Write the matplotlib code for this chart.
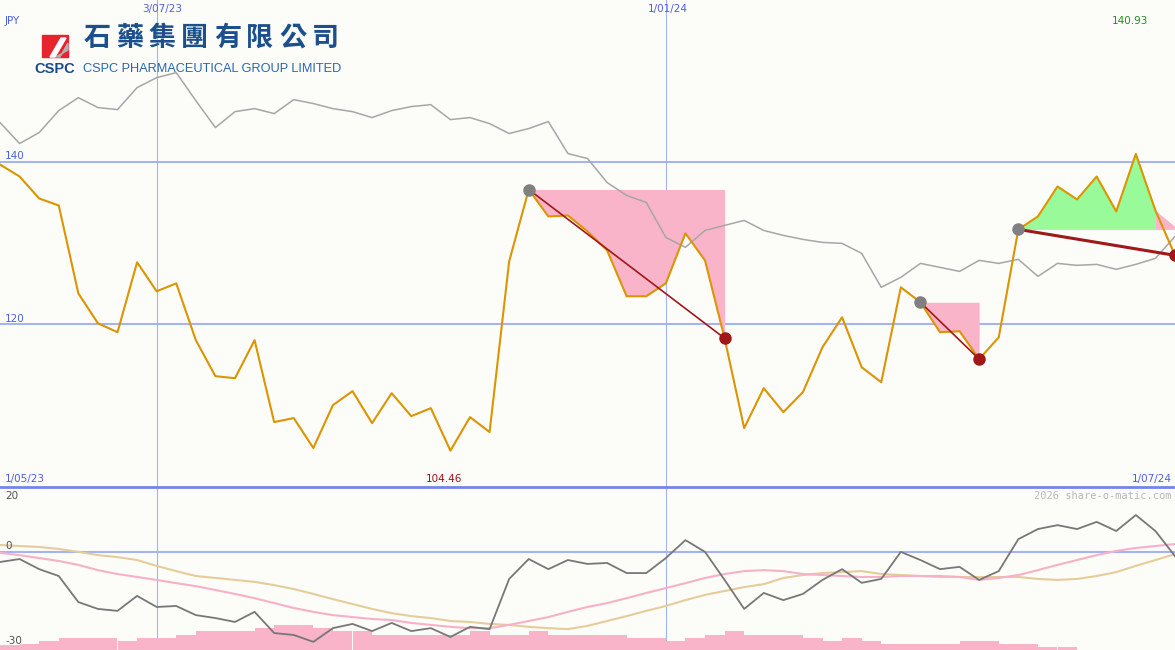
import numpy as np
import matplotlib
matplotlib.use("Agg")
import matplotlib.pyplot as plt
from matplotlib.patches import Rectangle, Polygon

# weekly closes (JPY) 1/05/23 .. 1/07/24
price = [139.63, 138.16, 135.46, 134.60, 123.80, 120.12, 119.02, 127.61, 124.05, 125.03,
         118.04, 113.62, 113.37, 118.04, 107.98, 108.47, 104.79, 110.06, 111.78, 107.85,
         111.53, 108.71, 109.69, 104.46, 108.59, 106.75, 127.73, 136.56, 133.25, 133.37,
         131.41, 129.08, 123.44, 123.44, 125.03, 131.17, 127.85, 118.28, 107.24, 112.15,
         109.20, 111.66, 117.18, 120.86, 114.72, 112.88, 124.54, 122.70, 119.02, 119.14,
         115.71, 118.40, 131.66, 133.25, 136.93, 135.34, 138.16, 133.87, 140.93, 133.99,
         128.47]
# comparison index, rescaled to the price axis
index_line = [144.79, 142.21, 143.56, 146.26, 147.85, 146.63, 146.38, 149.08, 150.31, 150.92,
              147.48, 144.17, 146.13, 146.50, 145.89, 147.61, 147.12, 146.50, 146.13, 145.40,
              146.26, 146.75, 146.99, 145.15, 145.40, 144.66, 143.44, 144.05, 144.91, 140.98,
              140.37, 137.42, 135.83, 134.97, 130.67, 129.45, 131.53, 132.15, 132.76, 131.53,
              130.92, 130.43, 130.06, 129.94, 128.71, 124.54, 125.77, 127.48, 126.99, 126.50,
              127.85, 127.48, 127.98, 125.89, 127.48, 127.24, 127.36, 126.75, 127.36, 128.10,
              130.80]
# lower panel: momentum and its two averages
momentum = [-3.0, -2.1, -5.2, -7.3, -15.3, -17.4, -18.0, -13.4, -16.8, -16.5,
            -19.3, -20.2, -21.4, -18.3, -24.8, -25.4, -27.5, -23.3, -22.0, -24.2,
            -21.7, -24.2, -23.3, -26.0, -22.9, -23.6, -8.2, -2.1, -5.2, -2.4,
            -3.6, -3.3, -6.4, -6.4, -1.8, 3.7, 0.1, -8.5, -17.4, -12.5,
            -14.7, -12.8, -8.5, -5.2, -9.4, -8.2, 0.1, -2.4, -5.2, -4.5,
            -8.5, -5.8, 4.0, 7.1, 8.3, 7.1, 9.3, 6.5, 11.4, 6.5, -1.2]
avg_fast = [-0.2, -0.9, -1.8, -2.7, -3.9, -5.5, -6.7, -7.6, -8.5, -9.5,
            -10.4, -11.6, -12.8, -14.1, -15.6, -17.1, -18.3, -19.3, -19.9, -20.5,
            -20.8, -21.7, -22.3, -22.9, -23.3, -23.3, -22.3, -21.1, -19.9, -18.3,
            -16.8, -15.6, -14.1, -12.5, -11.0, -9.5, -7.9, -6.7, -5.8, -5.5,
            -5.8, -6.7, -7.0, -7.3, -7.6, -7.6, -7.3, -7.3, -7.3, -7.6,
            -8.5, -7.9, -7.0, -5.5, -3.9, -2.4, -0.9, 0.4, 1.3, 1.9, 2.5]
avg_slow = [2.2, 1.9, 1.6, 1.0, 0.1, -0.9, -1.5, -2.4, -4.2, -5.8,
            -7.3, -7.9, -8.5, -9.1, -10.1, -11.3, -12.8, -14.4, -15.9, -17.4,
            -18.7, -19.6, -20.2, -21.1, -21.4, -22.0, -22.3, -22.9, -23.3, -23.6,
            -22.6, -21.1, -19.6, -18.0, -16.5, -14.7, -13.1, -11.9, -10.7, -9.8,
            -7.9, -7.0, -6.4, -6.1, -5.8, -6.7, -7.0, -7.3, -7.6, -7.6,
            -7.6, -7.6, -7.6, -8.2, -8.5, -8.2, -7.3, -6.1, -4.2, -2.4, -0.6]
volume = [1.5, 1.8, 2.8, 3.7, 3.7, 3.7, 2.8, 3.7, 3.7, 4.6,
          5.8, 5.8, 5.8, 6.7, 7.7, 7.7, 6.7, 5.8, 5.8, 4.6,
          4.6, 4.6, 4.6, 4.6, 5.8, 4.6, 4.6, 5.8, 4.6, 4.6,
          4.6, 4.6, 3.7, 3.7, 2.8, 3.7, 4.6, 5.8, 4.6, 4.6,
          4.6, 3.7, 2.8, 3.7, 2.8, 1.8, 1.8, 1.8, 1.8, 2.8,
          2.8, 1.8, 1.8, 0.9, 0.9, 0, 0, 0, 0, 0]

date_labels = {0: "1/05/23", 8: "3/07/23", 34: "1/01/24", 60: "1/07/24"}
# drawdown / recovery periods: (start, end) week index
drawdowns = [(27, 37), (47, 50)]
recovery = (52, 60)

W, H = 1175, 650
BG = "#fcfdf9"
GRID = "#a4b4f2"
BLUE_TXT = "#4d5fe6"
ORANGE = "#dc9400"
PINK = "#f9b4c9"
DARKRED = "#a01818"

x = np.arange(len(price))
price = np.array(price)

fig = plt.figure(figsize=(W / 100, H / 100), dpi=100, facecolor=BG)
split = 487
ax = fig.add_axes([0, 1 - split / H, 1, split / H], facecolor=BG)
ax2 = fig.add_axes([0, 0, 1, 1 - split / H], facecolor=BG)
for a in (ax, ax2):
    a.set_xlim(0, 60)
    a.axis("off")
ax.set_ylim(100, 159.85)
ax2.set_ylim(-30, 20)

# grid
for lvl in (120, 140):
    ax.axhline(lvl, color=GRID, lw=1.5, zorder=1)
for a in (ax, ax2):
    for k in (8, 34):
        a.axvline(k, color=GRID, lw=0.8, zorder=1)
ax2.axhline(0, color=GRID, lw=1.5, zorder=1)
fig.add_artist(plt.Line2D([0, 1], [1 - split / H] * 2, color="#7484ea", lw=2))

# drawdown shading
for s, e in drawdowns:
    ax.fill_between(x[s:e + 1], price[s:e + 1], price[s], color=PINK, lw=0, zorder=2)
s, e = recovery
ax.fill_between(x[s:e], price[s:e], price[s], color="#98fa98", lw=0, zorder=2)
ax.fill_between([x[e - 1], x[e]], price[s], [price[e - 1], price[s] + 0.35],
                color=PINK, lw=0, zorder=2)

ax.plot(x, index_line, color="#a6a6a6", lw=1.1, zorder=3)
ax.plot(x, price, color=ORANGE, lw=1.5, zorder=4)

# trend lines peak -> trough
for (s, e), lw in zip(drawdowns + [recovery], (1.2, 1.2, 2.2)):
    ax.plot([s, e], [price[s], price[e]], color=DARKRED, lw=lw, zorder=5)
    ax.plot(s, price[s], "o", color="#808080", ms=8, zorder=6)
    ax.plot(e, price[e], "o", color=DARKRED, ms=8, zorder=6)

# lower panel
ax2.bar(x[:-1], volume, width=1, align="edge", bottom=-30, color=PINK, lw=0, zorder=1)
ax2.plot(x, avg_slow, color="#e6cc9a", lw=1.5, zorder=2)
ax2.plot(x, avg_fast, color="#f8b0c8", lw=1.5, zorder=2)
ax2.plot(x, momentum, color="#777777", lw=1.3, zorder=3)


def txt(px, py, s, **kw):
    fig.text(px / W, 1 - py / H, s, **kw)


small = dict(fontsize=7.5, family="DejaVu Sans", va="center")
txt(5, 21, "JPY", color=BLUE_TXT, ha="left", **small)
txt(162, 9, date_labels[8], color=BLUE_TXT, ha="center", **small)
txt(668, 9, date_labels[34], color=BLUE_TXT, ha="center", **small)
txt(1130, 21, "%.2f" % price.max(), color="#209020", ha="center", **small)
txt(5, 156, "140", color=BLUE_TXT, ha="left", **small)
txt(5, 319, "120", color=BLUE_TXT, ha="left", **small)
txt(5, 479, date_labels[0], color=BLUE_TXT, ha="left", **small)
txt(1172, 479, date_labels[60], color=BLUE_TXT, ha="right", **small)
txt(444, 479, "%.2f" % price.min(), color="#a01010", ha="center", **small)
txt(5, 496, "20", color="#505050", ha="left", **small)
txt(5, 546, "0", color="#505050", ha="left", **small)
txt(5, 641, "-30", color="#505050", ha="left", **small)
txt(1172, 496, "2026 share-o-matic.com", color="#b8b8b8", ha="right",
    fontsize=7.5, family="DejaVu Sans Mono", va="center")

# company logo
fig.add_artist(Rectangle((42 / W, 1 - 57 / H), 26 / W, 22 / H, color="#e8232b",
                         transform=fig.transFigure))
fig.add_artist(Polygon([(50 / W, 1 - 57 / H), (55 / W, 1 - 57 / H),
                        (66 / W, 1 - 38 / H), (61 / W, 1 - 38 / H)],
                       closed=True, color="white", transform=fig.transFigure))
fig.add_artist(Polygon([(56 / W, 1 - 57 / H), (60 / W, 1 - 57 / H),
                        (68 / W, 1 - 43 / H), (68 / W, 1 - 50 / H)],
                       closed=True, color="#b0b0b0", transform=fig.transFigure))
for i, ch in enumerate("石藥集團有限公司"):
    txt(97 + i * 32.6, 46, ch, color="#1b4f8e", ha="center", fontsize=19.5,
        family="Noto Sans CJK TC", weight="bold")
txt(55, 69, "CSPC", color="#1b4a8a", ha="center", va="center", fontsize=10.5,
    family="Liberation Sans", weight="bold")
txt(83, 69, "CSPC PHARMACEUTICAL GROUP LIMITED", color="#2a66aa", ha="left",
    va="center", fontsize=9.2, family="Liberation Sans")

fig.savefig("out.png", dpi=100, facecolor=BG)
